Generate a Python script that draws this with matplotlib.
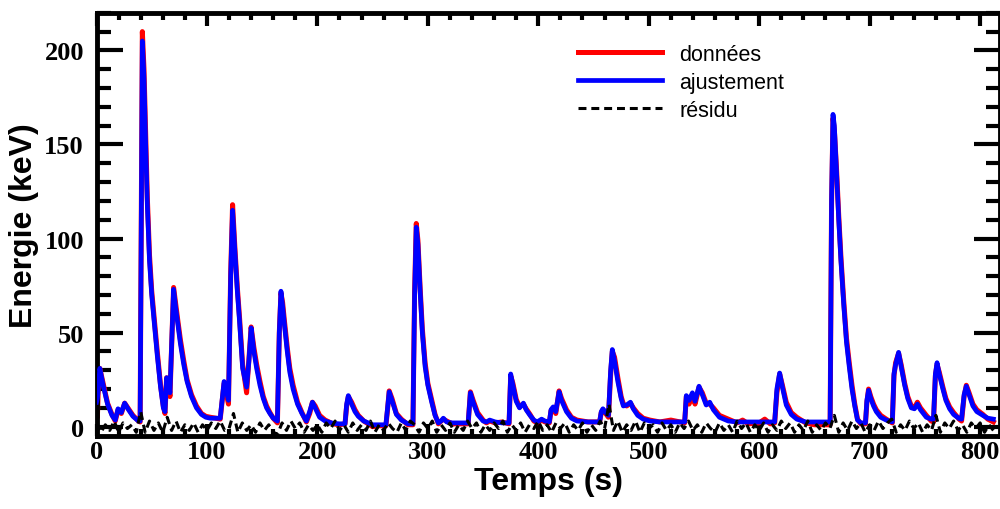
import numpy as np
import matplotlib
matplotlib.use("Agg")
import matplotlib.pyplot as plt
from matplotlib.ticker import MultipleLocator

# ----------------- Data -----------------
# key points of the curves: time (s), measured energy, fitted energy
temps = [
    0, 0.8, 1.6, 3, 6, 10, 14, 17, 19.5, 22.5, 25.5, 29, 33, 38, 39.5,
    41.5, 43, 44.5, 46, 48, 50, 52, 55, 58, 60.5, 62,
    63.5, 65, 66.5, 69.8, 71.5, 73.5, 76, 79, 82, 86, 90.5, 95, 99, 103, 108, 112,
    115.5, 119.5, 121.5, 123.2, 125.3, 127.5, 129.5, 132.3, 135.9, 138, 140, 142.5, 145, 148, 151, 154, 157, 160, 163.8,
    165.5, 167, 168.5, 170, 172.7, 175, 178, 182, 186, 190, 193, 195.5, 198, 202, 207, 214, 220, 225, 226.5, 228, 231, 234, 237, 242, 250, 256, 262,
    263.5, 265, 267.5, 271.5, 276, 282, 286.5, 288, 289.5, 291, 293, 295, 297.5, 300, 303.5, 306.5, 309.5, 312, 314, 317, 322, 330, 336.5,
    338.5, 341, 345, 350, 353, 356, 361, 367, 373.5, 375, 377, 380, 383, 386.5, 389, 392.5, 396, 399, 403, 406, 410,
    411.5, 413.5, 415.8, 418.8, 421, 425.5, 430, 435, 445, 455.5, 457, 458.5, 461, 463.5, 465.5, 467, 469, 472, 475, 477, 480, 483.4, 486, 490, 495, 501, 510, 520, 532.5,
    534, 536.5, 539.5, 541.9, 545.5, 548.5, 552, 555.2, 558.5, 564, 572, 580, 585, 590, 600, 605, 610, 614, 616, 618.5, 621, 624.5, 629, 634, 642, 650, 664.2,
    665.5, 666.8, 668, 670, 672, 674, 676.5, 679, 681.5, 684, 686.5, 689, 692, 696.2, 697.5, 699, 701, 703.5, 706, 710, 715, 720.5,
    722, 723.5, 726.2, 728.5, 731.7, 734.5, 737.7, 740.5, 743.2, 746, 751.3, 755.8, 757.8, 759.5, 761, 763, 766.3, 769, 772.4, 776, 781, 783.2, 785.5, 787.5, 790, 793.5, 797, 802.5, 807, 812,
]

donnees = [
    17, 5, 20, 31, 23, 12.5, 6.5, 3, 9, 7, 12.5, 9.5, 6, 3, 2.5,
    210, 190, 155, 122, 91, 72, 59, 40, 22, 11, 7,
    26, 24, 16, 74, 66, 57, 46, 35, 25, 17, 11, 7, 5.5, 5, 4.5, 4,
    23, 12, 82, 118, 95, 74, 58, 33, 18, 36, 53, 42, 33, 24, 16, 11, 7.5, 4.5, 2,
    50, 71, 66, 57, 42, 31, 22, 13, 7.5, 2.5, 7, 13, 11, 6, 3.5, 1.5, 1, 1.5, 11, 16, 13, 9, 6, 3, 0, 0.5, 0.5,
    9, 19, 15, 7, 4, 1, 1, 72, 108, 99, 74, 52, 34, 23, 14, 6.5, 1.5, 3, 4, 3, 1.5, 1.5, 1.5,
    18.5, 14, 7.5, 3.5, 2, 3, 2, 2.5, 1.5, 27, 23, 14.5, 10.5, 12, 9.5, 6.5, 3, 2, 3.5, 2.5, 2,
    8.5, 10, 7, 19, 15, 9, 5, 3.5, 2.5, 2.5, 7.5, 9, 7, 5, 28, 40, 37, 26, 16, 12, 11, 12.5, 10, 7, 4.5, 3.5, 2.5, 3.5, 2,
    16, 12, 17, 12, 21, 18, 12.5, 12, 10, 6, 4, 2, 3.5, 1.5, 2, 4, 1.5, 2, 18, 28, 22, 13, 7.5, 5, 2, 1, 1,
    118, 164, 158, 137, 112, 90, 67, 47, 34, 22, 12, 4, 1.5, 1.5, 13, 20, 16, 12, 9, 6, 4, 2,
    27, 34, 39, 33, 23, 16, 11, 10, 13, 10, 6, 3, 2.5, 27, 33, 29, 21, 15, 10.5, 7.5, 4, 3, 16, 22, 18, 12, 9, 6.5, 4, 2.5,
]

ajustement = [
    13, 15, 20, 31, 22, 12, 6, 3.5, 9.5, 7.5, 12.5, 9, 5.5, 3, 3,
    205, 185, 150, 118, 88, 70, 57, 38, 21, 10, 8,
    26, 24, 18, 73, 64, 55, 44, 33, 24, 16, 10, 6.5, 5, 4.5, 4.5, 4.5,
    24, 14, 80, 115, 93, 72, 56, 31, 21, 35, 52.5, 40, 31, 22, 15, 10, 7, 4.5, 3,
    50, 72, 64, 55, 40, 29, 20, 12, 7, 3, 8, 13, 10, 5, 3, 1.8, 1.5, 1.5, 12, 16.5, 12, 8, 5.5, 3, 1, 1, 1,
    10, 18.5, 14, 6.5, 3.5, 1.5, 1.5, 70, 106, 97, 72, 50, 32, 22, 13, 6, 2, 3, 4.5, 2.5, 2, 2, 2,
    18, 13, 6.5, 3, 2.5, 3.5, 2.5, 2, 2, 28, 22, 13.5, 10, 12.5, 9, 6, 3.5, 2.5, 4, 3, 2.5,
    9, 10.5, 8, 18.5, 14, 8, 4.5, 3, 2.5, 2.5, 8, 9.5, 7.5, 6, 30, 41, 35, 24, 15, 11, 11.5, 13, 9.5, 6, 4, 3, 2.5, 2.5, 2.5,
    16.5, 14, 18, 13.5, 21.5, 17, 11.5, 13, 9, 5, 3, 2.5, 2.5, 2.5, 2.5, 2.5, 2.5, 2.5, 20, 28.5, 21, 11.5, 6.5, 4, 2.5, 2.5, 2.5,
    120, 166, 160, 135, 110, 88, 65, 45, 32, 20, 11, 3.5, 2, 2, 14, 19.3, 15, 11, 8, 5, 3.5, 2.5,
    28, 33, 39.5, 32, 22, 15, 10, 9.5, 12, 9, 5, 4, 4, 28, 34, 28, 20, 14, 9.5, 6.5, 4.3, 4, 17, 21.5, 17, 11, 8, 6, 4.5, 4,
]

# residual, one value every 4 s from 0 to 812 s
temps_residu = list(range(0, 813, 4))
residu = [
    2, -3, 1, -2, 3, -3, 2, -1, 1, -3,
    8, -3, 3, -2, 2, -3, 5, -2, 3, -3,
    1, -2, 2, -3, 1, -2, 2, -1, 3, -2,
    -1, 7, -3, 2, -2, 1, -3, 2, -2, 1,
    -3, -4, 2, -2, 3, -1, 2, -3, 1, -2,
    1, -3, 2, -1, 3, -2, 1, -3, 2, -2,
    1, -2, 3, -3, 1, -2, 2, -1, -3, 2,
    -2, 3, 1, -3, 2, -1, 3, -3, 1, -2,
    2, -3, 1, -2, 3, -1, 2, -3, 1, -2,
    2, -1, 3, -3, 1, -2, 2, -3, 1, -1,
    3, -2, 1, -3, 2, -1, 2, -3, 1, -2,
    2, -3, 1, -2, 3, -1, 12, -2, 3, -3,
    1, -2, 3, -3, 2, -1, 1, -3, 2, -2,
    1, -3, 2, -1, 3, -2, 1, -3, 2, -1,
    -3, 2, -2, 1, -3, 3, -1, 2, -3, 1,
    -2, 2, -3, 1, -2, 3, -1, 2, -3, 1,
    -2, 3, -3, 1, -2, 2, -1, 6, -3, 2,
    -2, 3, -1, 2, -3, 1, -2, 3, -1, 2,
    4, -3, 1, -2, 3, -1, 2, -3, 1, -2,
    6, -3, 2, -1, 3, -2, 1, -3, 2, -1,
    2, -3, 1, -2,
]

assert len(temps) == len(donnees) == len(ajustement)
assert len(temps_residu) == len(residu)

# ----------------- Plot -----------------
fig = plt.figure(figsize=(10, 5.1), dpi=100)
ax = fig.add_axes([0.0965, 0.143, 0.9035, 0.830])

ax.plot(temps, donnees, color="#ff0000", lw=3.6, label="données", zorder=2)
ax.plot(temps, ajustement, color="#0000ff", lw=3.4, label="ajustement", zorder=3)
ax.plot(temps_residu, residu, color="black", lw=2.2, ls=(0, (2.6, 1.6)),
        label="résidu", zorder=4)

ax.set_xlim(0, 818)
ax.set_ylim(-5, 220)

for s in ax.spines.values():
    s.set_linewidth(3.5)

ax.xaxis.set_major_locator(MultipleLocator(100))
ax.xaxis.set_minor_locator(MultipleLocator(20))
ax.yaxis.set_major_locator(MultipleLocator(50))
ax.yaxis.set_minor_locator(MultipleLocator(10))

ax.tick_params(axis="x", which="major", direction="in", top=True, bottom=True,
               length=9, width=3, pad=3)
ax.tick_params(axis="x", which="minor", direction="in", top=True, bottom=True,
               length=5, width=3)
ax.tick_params(axis="y", which="major", direction="in", left=True, right=True,
               length=19, width=3, pad=9)
ax.tick_params(axis="y", which="minor", direction="in", left=True, right=True,
               length=10, width=3)

for lab in ax.get_xticklabels() + ax.get_yticklabels():
    lab.set_fontfamily("Liberation Serif")
    lab.set_fontweight("bold")
    lab.set_fontsize(19)

ax.set_xlabel("Temps (s)", fontsize=23, fontweight="bold",
              fontfamily="Liberation Sans", labelpad=2)
ax.set_ylabel("Energie (keV)", fontsize=23, fontweight="bold",
              fontfamily="Liberation Sans", labelpad=4)

leg = ax.legend(loc="upper left", bbox_to_anchor=(0.578, 0.912),
                bbox_transform=fig.transFigure, frameon=False,
                prop={"family": "Liberation Sans", "size": 15.5},
                handlelength=3.9, handletextpad=0.8, labelspacing=0.32,
                borderpad=0, borderaxespad=0)

fig.savefig("out.png", dpi=100)
